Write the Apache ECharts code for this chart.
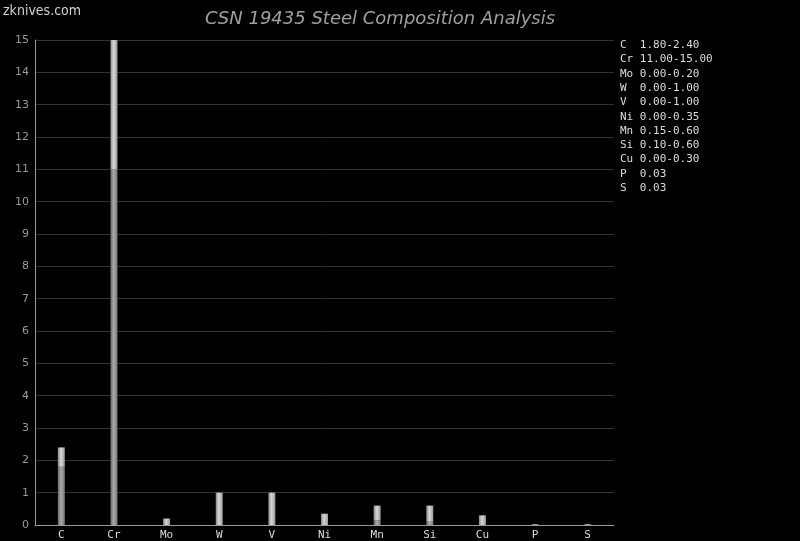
<!DOCTYPE html>
<html><head><meta charset="utf-8">
<script src="https://cdn.jsdelivr.net/npm/echarts@6/dist/echarts.min.js"></script>
<style>html,body{margin:0;padding:0;background:#000;}#c{width:800px;height:541px;}</style>
</head><body><div id="c"></div>
<script>
var elements = ['C','Cr','Mo','W','V','Ni','Mn','Si','Cu','P','S'];
var minVals  = [1.80, 11.00, 0.00, 0.00, 0.00, 0.00, 0.15, 0.10, 0.00, 0.03, 0.03];
var maxVals  = [2.40, 15.00, 0.20, 1.00, 1.00, 0.35, 0.60, 0.60, 0.30, 0.03, 0.03];
var legendText = ['1.80-2.40','11.00-15.00','0.00-0.20','0.00-1.00','0.00-1.00','0.00-0.35','0.15-0.60','0.10-0.60','0.00-0.30','0.03','0.03'];
var yTicks = [0,1,2,3,4,5,6,7,8,9,10,11,12,13,14,15];

var rangeVals = maxVals.map(function(v,i){ return +(v - minVals[i]).toFixed(4); });

function grad(a,b,c){
  return new echarts.graphic.LinearGradient(0,0,1,0,[
    {offset:0,color:a},{offset:0.45,color:b},{offset:1,color:c}]);
}

var legendLines = elements.map(function(e,i){
  return (e + '  ').slice(0,3) + legendText[i];
});

var chart = echarts.init(document.getElementById('c'));
chart.setOption({
  backgroundColor:'#000',
  animation:false,
  title:{text:'CSN 19435 Steel Composition Analysis', left:375, textAlign:'center', top:5,
    textStyle:{color:'#a0a0a0', fontStyle:'italic', fontWeight:'normal', fontSize:18, fontFamily:'DejaVu Sans'}},
  graphic:[
    {type:'text', left:3, top:4, style:{text:'zknives.com', fill:'#d0d0d0', font:'14px "DejaVu Sans Condensed", "DejaVu Sans"'}},
    {type:'text', left:620, top:38, style:{text:legendLines.join('\n'), fill:'#dcdcdc', lineHeight:14.3,
      font:'11px "DejaVu Sans Mono"'}}
  ],
  grid:{left:35, right:186, top:40, bottom:16},
  xAxis:{type:'category', data:elements,
    axisLine:{lineStyle:{color:'#999'}}, axisTick:{show:false},
    axisLabel:{color:'#dcdcdc', fontFamily:'DejaVu Sans Mono', fontSize:11, margin:5}},
  yAxis:{type:'value', min:0, max:15, interval:1,
    axisLine:{show:true, lineStyle:{color:'#999'}}, axisTick:{show:false},
    axisLabel:{color:'#999', fontSize:11, fontFamily:'DejaVu Sans', margin:6},
    splitLine:{lineStyle:{color:'#333'}}},
  series:[
    {type:'bar', stack:'a', data:minVals, barWidth:7,
     itemStyle:{color:grad('#666','#aaa','#777')}},
    {type:'bar', stack:'a', data:rangeVals, barWidth:7,
     itemStyle:{color:grad('#888','#d8d8d8','#999')}}
  ]
});
</script></body></html>
